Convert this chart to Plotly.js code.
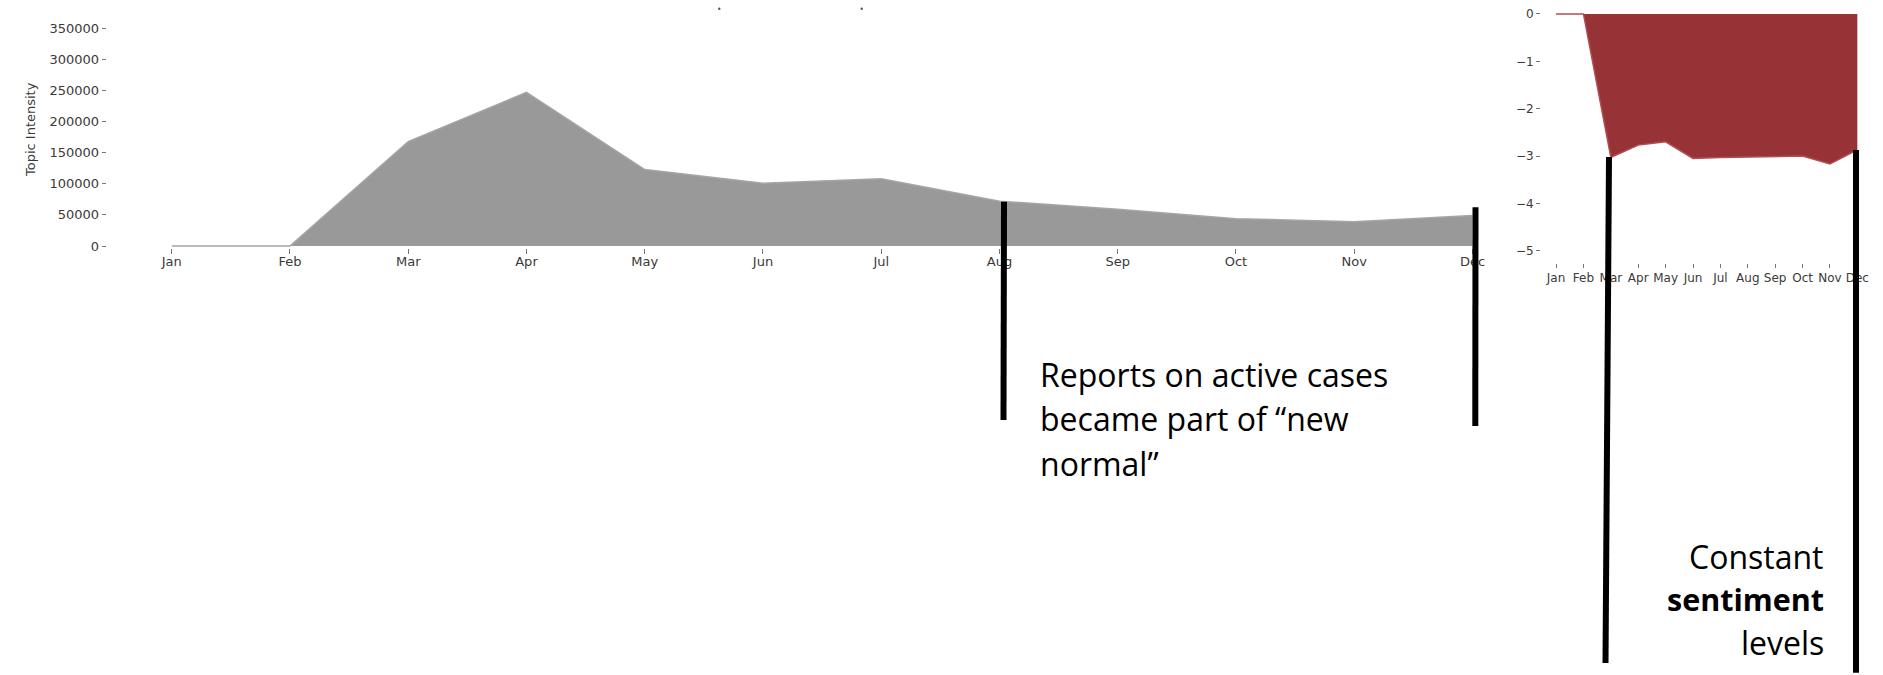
<!DOCTYPE html>
<html>
<head>
<meta charset="utf-8">
<script src="https://cdn.plot.ly/plotly-3.0.1.min.js"></script>
<style>
  html, body { margin: 0; padding: 0; background: #ffffff; }
  #chart { width: 1883px; height: 675px; }
</style>
</head>
<body>
<div id="chart"></div>
<script>
// ---- data ----
const months = ['Jan', 'Feb', 'Mar', 'Apr', 'May', 'Jun', 'Jul', 'Aug', 'Sep', 'Oct', 'Nov', 'Dec'];
const topicIntensity = [0, 0, 168000, 247000, 123000, 101000, 108000, 72000, 59000, 44000, 39000, 49000];
const sentiment = [0, 0, -3.03, -2.77, -2.70, -3.05, -3.03, -3.02, -3.01, -3.00, -3.17, -2.87];
const intensityTicks = [0, 50000, 100000, 150000, 200000, 250000, 300000, 350000];
const sentimentTicks = [0, -1, -2, -3, -4, -5];
const intensityTitle = 'Topic Intensity';
const noteLeft = ['Reports on active cases', 'became part of \u201cnew', 'normal\u201d'];
const noteRight = ['Constant', '<b>sentiment</b>', 'levels'];

// ---- helpers: pixel -> paper ----
const W = 1883, H = 675;
const px = x => x / W;
const py = y => 1 - y / H;

const tickFont = { family: 'DejaVu Sans', size: 13, color: '#3a3a3a' };
const tickFontSmall = { family: 'DejaVu Sans', size: 12, color: '#3a3a3a' };
const noteFont = { family: 'Open Sans', size: 32, color: '#000' };
const noteFontBold = { family: 'Open Sans', size: 30.5, color: '#000' };

const traces = [
  {
    x: months, y: topicIntensity, type: 'scatter', mode: 'lines',
    fill: 'tozeroy', fillcolor: 'rgb(153,153,153)',
    line: { color: 'rgb(165,165,165)', width: 1.5 },
    xaxis: 'x', yaxis: 'y', hoverinfo: 'skip', showlegend: false
  },
  {
    x: months, y: sentiment, type: 'scatter', mode: 'lines',
    fill: 'tozeroy', fillcolor: 'rgb(151,51,55)',
    line: { color: 'rgb(178,78,82)', width: 1.5 },
    xaxis: 'x2', yaxis: 'y2', hoverinfo: 'skip', showlegend: false
  }
];

const axisBase = {
  showgrid: false, zeroline: false, showline: false,
  ticks: 'outside', tickcolor: '#777', tickwidth: 1
};

const annotations = [
  {
    xref: 'paper', yref: 'paper', x: px(30), y: py(130),
    xanchor: 'center', yanchor: 'middle', showarrow: false, textangle: -90,
    text: intensityTitle, font: { family: 'DejaVu Sans', size: 13, color: '#3a3a3a' }
  }
];
noteLeft.forEach((t, i) => annotations.push({
  xref: 'paper', yref: 'paper', x: px(1038), y: py(374.3 + i * 44.6),
  xanchor: 'left', yanchor: 'middle', showarrow: false, text: t, font: noteFont
}));
noteRight.forEach((t, i) => annotations.push({
  xref: 'paper', yref: 'paper', x: px(1826), y: py(556 + i * 43),
  xanchor: 'right', yanchor: 'middle', showarrow: false, text: t,
  font: t.indexOf('<b>') === 0 ? noteFontBold : noteFont
}));

const bar = (x0, y0, x1, y1) => ({
  type: 'line', xref: 'paper', yref: 'paper',
  x0: px(x0), y0: py(y0), x1: px(x1), y1: py(y1),
  line: { color: '#000', width: 6 }, layer: 'above'
});
const dot = (x, y) => ({
  type: 'circle', xref: 'paper', yref: 'paper',
  x0: px(x - 1.2), x1: px(x + 1.2), y0: py(y + 1.2), y1: py(y - 1.2),
  fillcolor: '#555', line: { width: 0 }, layer: 'above'
});

const layout = {
  width: W, height: H,
  margin: { l: 0, r: 0, t: 0, b: 0, pad: 0 },
  paper_bgcolor: '#fff', plot_bgcolor: 'rgba(0,0,0,0)',
  showlegend: false,
  xaxis: Object.assign({}, axisBase, {
    domain: [px(106.7), px(1537.5)], anchor: 'y', type: 'category',
    range: [-0.55, 11.55], ticklen: 5, tickfont: tickFont, ticklabelstandoff: -4
  }),
  yaxis: Object.assign({}, axisBase, {
    domain: [py(247.9), py(28.3)], anchor: 'x',
    range: [-3000, 350000], tickvals: intensityTicks, tickformat: 'd',
    ticklen: 4, tickfont: tickFont
  }),
  xaxis2: Object.assign({}, axisBase, {
    domain: [px(1541), px(1872.4)], anchor: 'y2', type: 'category',
    range: [-0.55, 11.55], ticklen: 4, tickfont: tickFontSmall, tickangle: 0
  }),
  yaxis2: Object.assign({}, axisBase, {
    domain: [py(263), py(11.6)], anchor: 'x2',
    range: [-5.26, 0.05], tickvals: sentimentTicks,
    ticklen: 4, tickfont: tickFontSmall
  }),
  annotations: annotations,
  shapes: [
    bar(1004, 201.7, 1003.5, 420),
    bar(1475.5, 207.3, 1475.3, 426),
    bar(1609, 157, 1605.5, 663),
    bar(1856, 150, 1856, 672.7),
    dot(719.3, 8.7),
    dot(861.7, 8.7)
  ]
};

Plotly.newPlot('chart', traces, layout, { staticPlot: true, displayModeBar: false });
</script>
</body>
</html>
